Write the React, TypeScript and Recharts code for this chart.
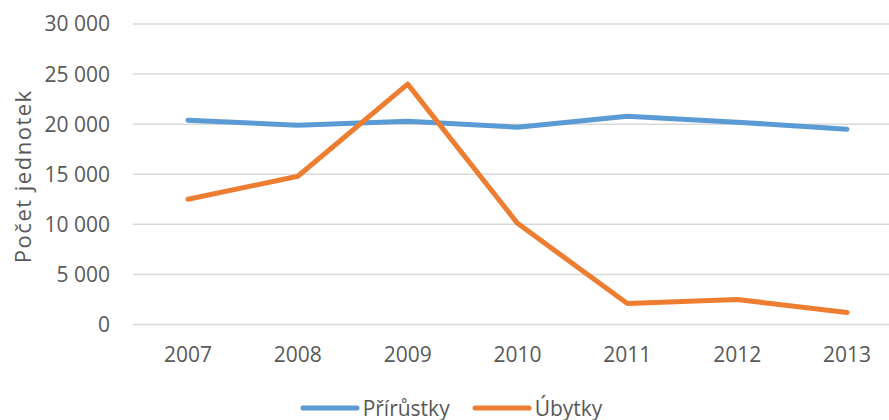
import { LineChart, Line, XAxis, YAxis, CartesianGrid, Legend } from 'recharts';

const years = ['2007', '2008', '2009', '2010', '2011', '2012', '2013'];
const prirustky = [20400, 19900, 20300, 19700, 20800, 20200, 19500];
const ubytky = [12500, 14800, 24000, 10100, 2100, 2500, 1200];
const yTicks = [0, 5000, 10000, 15000, 20000, 25000, 30000];

const data = years.map((year, i) => ({
  year,
  prirustky: prirustky[i],
  ubytky: ubytky[i],
}));

const FONT = '"Open Sans", sans-serif';
const TEXT = '#595959';

const formatThousands = (v: number) => String(v).replace(/\B(?=(\d{3})+(?!\d))/g, ' ');

const YLabel = (props: any) => {
  const vb = props.viewBox || { y: 24, height: 300 };
  const cx = 22;
  const cy = vb.y + vb.height / 2 + 2;
  return (
    <text
      x={cx}
      y={cy}
      transform={`rotate(-90 ${cx} ${cy})`}
      textAnchor="middle"
      dominantBaseline="central"
      fill={TEXT}
      fontFamily={FONT}
      fontSize={22}
      letterSpacing={1.5}
    >
      Počet jednotek
    </text>
  );
};

const LegendContent = (props: any) => {
  const items = props.payload || [];
  return (
    <div
      style={{
        display: 'flex',
        justifyContent: 'center',
        alignItems: 'center',
        height: 30,
        fontFamily: FONT,
        fontSize: 21,
        lineHeight: '30px',
        color: TEXT,
      }}
    >
      {items.map((item: any, i: number) => (
        <div key={i} style={{ display: 'flex', alignItems: 'center', marginLeft: i > 0 ? 22 : 0 }}>
          <svg width={60} height={10} style={{ marginRight: 3 }}>
            <line x1={3} y1={5} x2={57} y2={5} stroke={item.color} strokeWidth={5} strokeLinecap="round" />
          </svg>
          <span>{item.value}</span>
        </div>
      ))}
    </div>
  );
};

const App = () => {
  return (
    <div style={{ position: 'absolute', left: 0, top: 0, width: 889, height: 420, overflow: 'hidden', background: '#fff' }}>
      <LineChart width={909} height={420} data={data} margin={{ top: 24, right: 7, bottom: 0, left: 0 }}>
        <CartesianGrid horizontal vertical={false} stroke="#d9d9d9" strokeWidth={1.5} />
        <XAxis
          dataKey="year"
          axisLine={false}
          tickLine={false}
          tickMargin={17}
          height={65.5}
          padding={{ left: 55, right: 55 }}
          tick={{ fill: TEXT, fontFamily: FONT, fontSize: 21 }}
        />
        <YAxis
          domain={[0, 30000]}
          ticks={yTicks}
          width={133}
          axisLine={false}
          tickLine={false}
          tickMargin={17}
          tickFormatter={formatThousands}
          tick={{ fill: TEXT, fontFamily: FONT, fontSize: 21 }}
          label={<YLabel />}
        />
        <Legend verticalAlign="bottom" wrapperStyle={{ bottom: -3 }} content={<LegendContent />} />
        <Line
          type="linear"
          dataKey="prirustky"
          name="Přírůstky"
          stroke="#5b9bd5"
          strokeWidth={5}
          strokeLinecap="round"
          strokeLinejoin="round"
          dot={false}
          activeDot={false}
          isAnimationActive={false}
        />
        <Line
          type="linear"
          dataKey="ubytky"
          name="Úbytky"
          stroke="#ed7d31"
          strokeWidth={5}
          strokeLinecap="round"
          strokeLinejoin="round"
          dot={false}
          activeDot={false}
          isAnimationActive={false}
        />
      </LineChart>
    </div>
  );
};

export default App;
